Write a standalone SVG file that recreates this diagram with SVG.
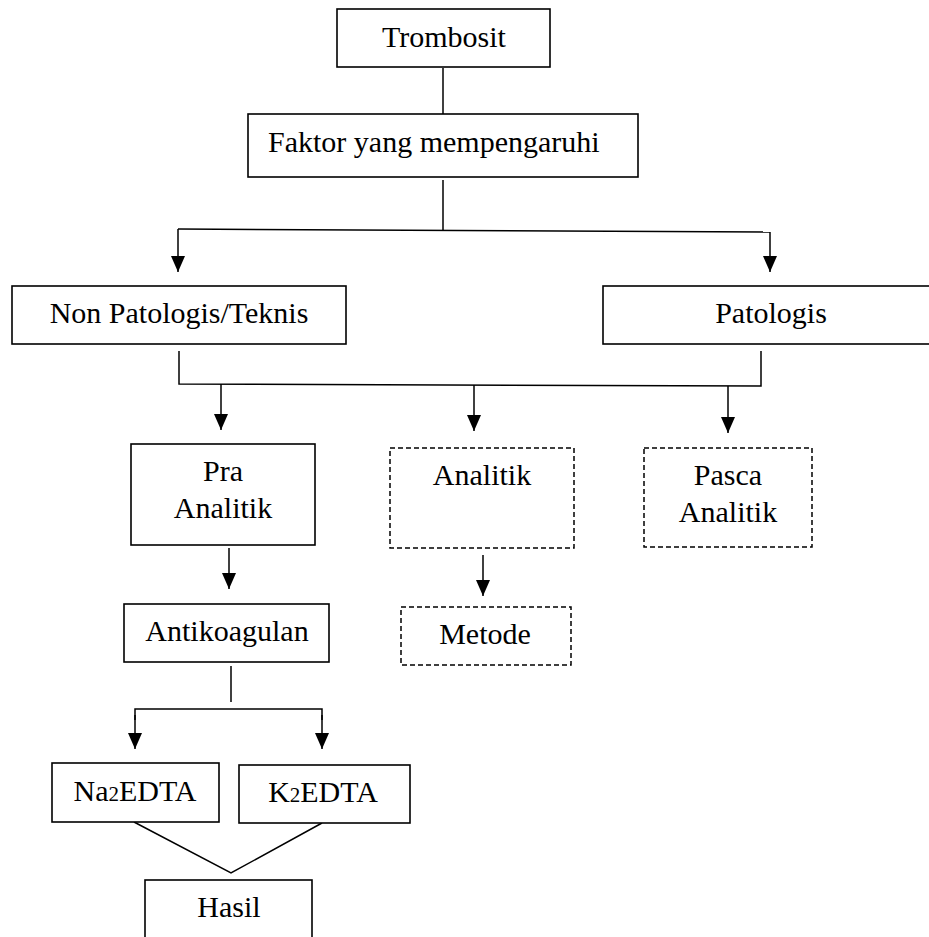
<svg xmlns="http://www.w3.org/2000/svg" width="929" height="937" viewBox="0 0 929 937">
<defs>
<marker id="ah" markerUnits="userSpaceOnUse" markerWidth="16" markerHeight="14" refX="16" refY="7" orient="auto" viewBox="0 0 16 14">
<path d="M0,0 L16,7 L0,14 Z" fill="#000"/>
</marker>
<style>
.box{fill:#fff;stroke:#000;stroke-width:1.6}
.dash{fill:#fff;stroke:#000;stroke-width:1.5;stroke-dasharray:5 3}
.ln{fill:none;stroke:#000;stroke-width:1.5}
.ar{fill:none;stroke:#000;stroke-width:1.5}
text{font-family:"Liberation Serif","Times New Roman",serif;font-size:30px;fill:#000}
.c{text-anchor:middle}
</style>
</defs>
<rect width="929" height="937" fill="#fff"/>
<g id="connectors">
<line class="ln" x1="443" y1="68" x2="443" y2="114"/>
<line class="ln" x1="443" y1="180" x2="443" y2="230"/>
<polyline class="ln" points="178,229 770,232"/>
<path class="ar" d="M178,229 V272" marker-end="url(#ah)"/>
<path class="ar" d="M770,232 V272" marker-end="url(#ah)"/>
<polyline class="ln" points="179,351 179,384 761,386 761,351"/>
<path class="ar" d="M221,384 V430" marker-end="url(#ah)"/>
<path class="ar" d="M474,385 V431" marker-end="url(#ah)"/>
<path class="ar" d="M728,386 V433" marker-end="url(#ah)"/>
<path class="ar" d="M229,548 V589" marker-end="url(#ah)"/>
<path class="ar" d="M483,555 V596" marker-end="url(#ah)"/>
<line class="ln" x1="231" y1="666" x2="231" y2="702"/>
<polyline class="ln" points="135,720 135,709 322,709 322,720"/>
<path class="ar" d="M135,715 V749" marker-end="url(#ah)"/>
<path class="ar" d="M322,715 V749" marker-end="url(#ah)"/>
<polyline class="ln" points="134,822 231,873 322,823"/>
</g>
<g id="trombosit">
<rect class="box" x="337" y="9" width="213" height="58"/>
<text class="c" x="444" y="47">Trombosit</text>
</g>
<g id="faktor">
<rect class="box" x="248" y="114" width="390" height="63"/>
<text x="268" y="152">Faktor yang mempengaruhi</text>
</g>
<g id="nonpatologis">
<rect class="box" x="12" y="286" width="334" height="58"/>
<text class="c" x="179" y="323">Non Patologis/Teknis</text>
</g>
<g id="patologis">
<rect class="box" x="603" y="286" width="340" height="58"/>
<text class="c" x="771" y="323">Patologis</text>
</g>
<g id="praanalitik">
<rect class="box" x="131" y="444" width="184" height="101"/>
<text class="c" x="223" y="481">Pra</text>
<text class="c" x="223" y="518">Analitik</text>
</g>
<g id="analitik">
<rect class="dash" x="390" y="448" width="184" height="100"/>
<text class="c" x="482" y="485">Analitik</text>
</g>
<g id="pascaanalitik">
<rect class="dash" x="644" y="448" width="168" height="99"/>
<text class="c" x="728" y="485">Pasca</text>
<text class="c" x="728" y="522">Analitik</text>
</g>
<g id="antikoagulan">
<rect class="box" x="124" y="604" width="205" height="58"/>
<text class="c" x="227" y="641">Antikoagulan</text>
</g>
<g id="metode">
<rect class="dash" x="401" y="607" width="170" height="58"/>
<text class="c" x="485" y="644">Metode</text>
</g>
<g id="na2edta">
<rect class="box" x="52" y="763" width="167" height="59"/>
<text class="c" x="135" y="801">Na<tspan font-size="21">2</tspan>EDTA</text>
</g>
<g id="k2edta">
<rect class="box" x="239" y="765" width="171" height="58"/>
<text class="c" x="323" y="802">K<tspan font-size="21">2</tspan>EDTA</text>
</g>
<g id="hasil">
<rect class="box" x="145" y="880" width="167" height="70"/>
<text class="c" x="229" y="917">Hasil</text>
</g>
</svg>
